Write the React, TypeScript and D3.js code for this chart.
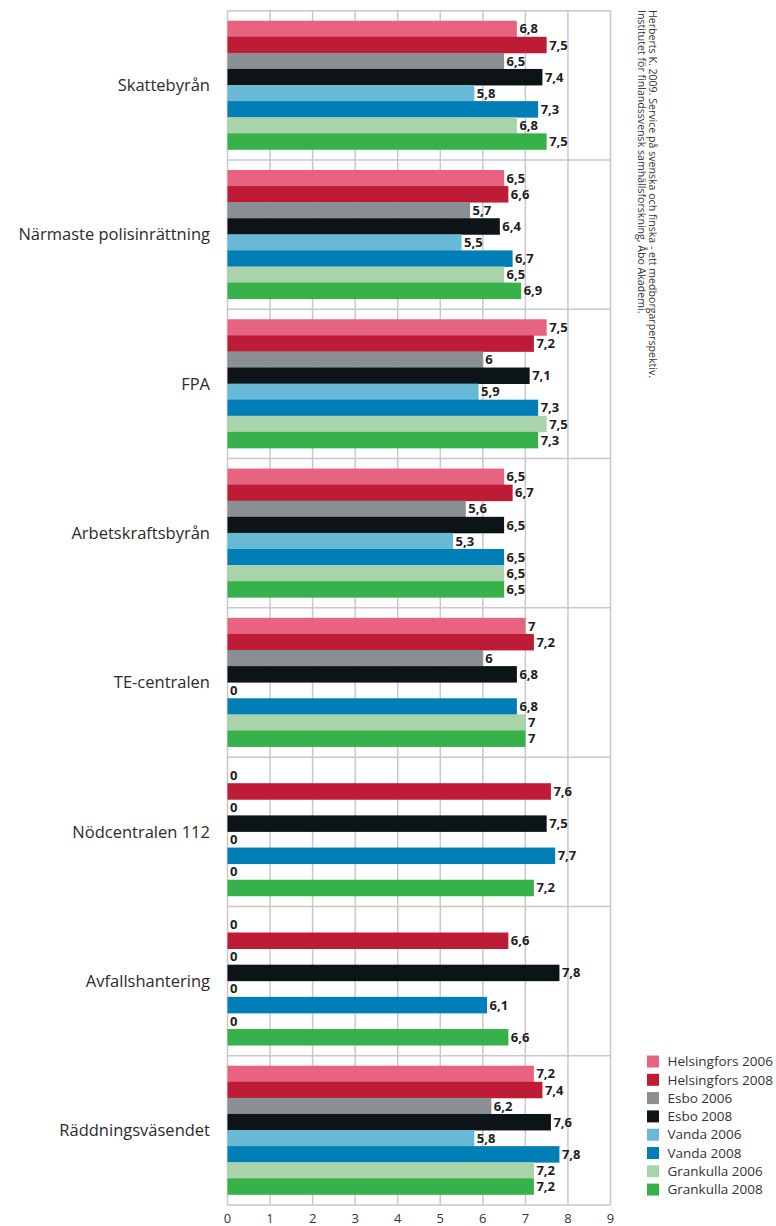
import * as d3 from "d3"

const categories = [
  "Skattebyrån",
  "Närmaste polisinrättning",
  "FPA",
  "Arbetskraftsbyrån",
  "TE-centralen",
  "Nödcentralen 112",
  "Avfallshantering",
  "Räddningsväsendet",
]

const seriesNames = [
  "Helsingfors 2006",
  "Helsingfors 2008",
  "Esbo 2006",
  "Esbo 2008",
  "Vanda 2006",
  "Vanda 2008",
  "Grankulla 2006",
  "Grankulla 2008",
]

const seriesColors = [
  "#e8637f",
  "#be1b37",
  "#8a8f92",
  "#0d1417",
  "#68b9d6",
  "#007eb8",
  "#a9d3a9",
  "#37b24a",
]

// one row per category, values in series order
const skattebyran = [6.8, 7.5, 6.5, 7.4, 5.8, 7.3, 6.8, 7.5]
const polisinrattning = [6.5, 6.6, 5.7, 6.4, 5.5, 6.7, 6.5, 6.9]
const fpa = [7.5, 7.2, 6, 7.1, 5.9, 7.3, 7.5, 7.3]
const arbetskraftsbyran = [6.5, 6.7, 5.6, 6.5, 5.3, 6.5, 6.5, 6.5]
const teCentralen = [7, 7.2, 6, 6.8, 0, 6.8, 7, 7]
const nodcentralen = [0, 7.6, 0, 7.5, 0, 7.7, 0, 7.2]
const avfallshantering = [0, 6.6, 0, 7.8, 0, 6.1, 0, 6.6]
const raddningsvasendet = [7.2, 7.4, 6.2, 7.6, 5.8, 7.8, 7.2, 7.2]

const values = [
  skattebyran,
  polisinrattning,
  fpa,
  arbetskraftsbyran,
  teCentralen,
  nodcentralen,
  avfallshantering,
  raddningsvasendet,
]

const xTicks = [0, 1, 2, 3, 4, 5, 6, 7, 8, 9]

const sourceLines = [
  "Herberts K. 2009. Service på svenska och finska - ett medborgarperspektiv.",
  "Institutet för finlandssvensk samhällsforskning, Åbo Akademi.",
]

const WIDTH = 776
const HEIGHT = 1226
const FONT = "'Open Sans', 'Noto Sans', sans-serif"

export default function App() {
  const left = 227.5
  const right = 610.5
  const top = 10.7
  const bottom = 1205

  const x = d3.scaleLinear().domain([0, 9]).range([left, right])
  const y = d3.scaleBand<string>().domain(categories).range([top, bottom])
  const inner = d3
    .scaleBand<string>()
    .domain(seriesNames)
    .range([10, y.bandwidth() - 10.6])

  const fmt = (v: number) => String(v).replace(".", ",")
  const grid = "#c8c8c8"

  return (
    <div style={{ position: "absolute", left: 0, top: 0 }}>
      <svg width={WIDTH} height={HEIGHT} style={{ display: "block", fontFamily: FONT }}>
        <rect width={WIDTH} height={HEIGHT} fill="#fff" />

        {/* vertical grid */}
        {xTicks.map((t) => (
          <line key={"g" + t} x1={x(t)} x2={x(t)} y1={top} y2={bottom} stroke={grid} strokeWidth={1.5} />
        ))}

        {/* category separators */}
        {categories.map((c) => (
          <line key={"s" + c} x1={left} x2={right} y1={y(c)!} y2={y(c)!} stroke={grid} strokeWidth={1.5} />
        ))}
        <line x1={left} x2={right} y1={bottom} y2={bottom} stroke={grid} strokeWidth={1.5} />

        {/* bars */}
        {categories.map((c, ci) =>
          values[ci].map((v, si) => (
            <rect
              key={c + si}
              x={x(0)}
              y={y(c)! + inner(seriesNames[si])!}
              width={x(v) - x(0)}
              height={inner.bandwidth() + 0.4}
              fill={seriesColors[si]}
            />
          ))
        )}

        {/* value labels */}
        {categories.map((c, ci) =>
          values[ci].map((v, si) => (
            <text
              key={"l" + c + si}
              x={x(v) + 2.5}
              y={y(c)! + inner(seriesNames[si])! + inner.bandwidth() / 2}
              dy="0.36em"
              fontSize={13}
              fontWeight="bold"
              fill="#1d1d1b"
            >
              {fmt(v)}
            </text>
          ))
        )}

        {/* category labels */}
        {categories.map((c) => (
          <text
            key={"c" + c}
            x={210}
            y={y(c)! + y.bandwidth() / 2}
            dy="0.35em"
            textAnchor="end"
            fontSize={16.5}
            fill="#2b2b2b"
          >
            {c}
          </text>
        ))}

        {/* x tick labels */}
        {xTicks.map((t) => (
          <text key={"t" + t} x={x(t)} y={1223} textAnchor="middle" fontSize={13} fill="#333">
            {t}
          </text>
        ))}

        {/* legend */}
        {seriesNames.map((s, i) => (
          <g key={"lg" + s} transform={`translate(647, ${1055.5 + i * 18.3})`}>
            <rect width={12} height={12} fill={seriesColors[i]} />
            <text x={20.5} y={6} dy="0.35em" fontSize={13.5} fill="#333">
              {s}
            </text>
          </g>
        ))}

        {/* source, rotated */}
        <g transform="translate(653, 10) rotate(90)">
          {sourceLines.map((line, i) => (
            <text key={"src" + i} x={0} y={i * 11.5} dy="0.35em" fontSize={10.6} fill="#333">
              {line}
            </text>
          ))}
        </g>
      </svg>
    </div>
  )
}
